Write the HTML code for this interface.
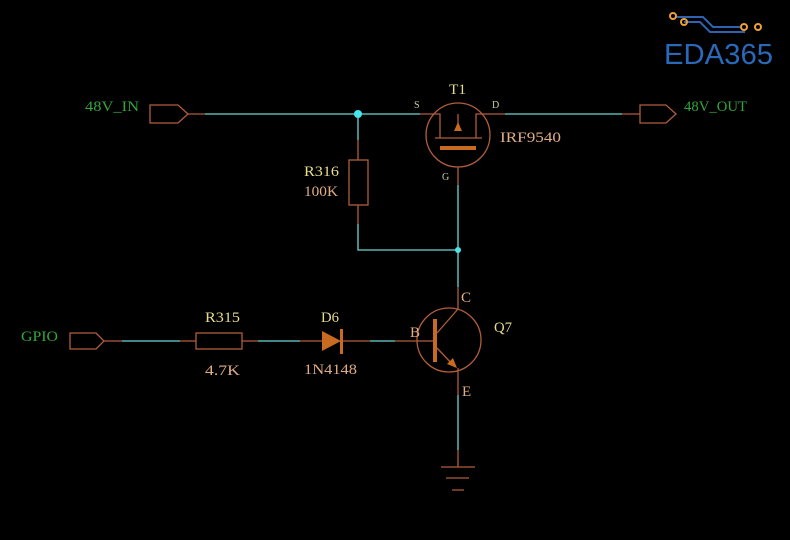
<!DOCTYPE html>
<html><head><meta charset="utf-8"><style>
html,body{margin:0;padding:0;background:#000;width:790px;height:540px;overflow:hidden}
text{font-family:"Liberation Serif",serif;font-size:15px}
.w{stroke:#6ad6d6;stroke-width:1.3;fill:none}
.b{stroke:#b05e3c;stroke-width:1.3;fill:none}
.lab{fill:#e6dc8e}
.val{fill:#e0ad84}
.net{fill:#33a63a}
</style></head><body>
<svg width="790" height="540" viewBox="0 0 790 540" xmlns="http://www.w3.org/2000/svg">
<g>
<path d="M676 17 H703 L713 27 H740" stroke="#2f63b0" stroke-width="2" fill="none"/>
<path d="M684 22 H700 L710 32 H745" stroke="#2f63b0" stroke-width="2" fill="none"/>
<circle cx="673" cy="16" r="3" fill="none" stroke="#f0a030" stroke-width="2"/>
<circle cx="684" cy="22" r="3" fill="none" stroke="#f0a030" stroke-width="2"/>
<circle cx="744" cy="27" r="3" fill="none" stroke="#f0a030" stroke-width="2"/>
<circle cx="758" cy="27" r="3" fill="none" stroke="#f0a030" stroke-width="2"/>
<text x="664" y="64" textLength="109" lengthAdjust="spacingAndGlyphs" style="font-family:'Liberation Sans',sans-serif;font-size:29px" fill="#2a68b8">EDA365</text>
</g>
<text x="85" y="111" class="net" textLength="54" lengthAdjust="spacingAndGlyphs">48V_IN</text>
<path class="b" d="M150 105 H178 L188 114 L178 123 H150 Z"/>
<path class="b" d="M188 114 H205"/>
<path class="w" d="M205 114 H420"/>
<circle cx="358" cy="114" r="4" fill="#40e8f0"/>
<path class="w" d="M358 114 V140"/>
<path class="b" d="M358 140 V160 M358 205 V224"/>
<rect x="349" y="160" width="19" height="45" class="b"/>
<text x="304" y="176" class="lab" textLength="35" lengthAdjust="spacingAndGlyphs">R316</text>
<text x="304" y="196" class="val" textLength="34" lengthAdjust="spacingAndGlyphs">100K</text>
<path class="w" d="M358 224 V250 H458"/>
<circle cx="458" cy="250" r="3" fill="#40e8f0"/>
<text x="449" y="94" class="lab" textLength="17" lengthAdjust="spacingAndGlyphs">T1</text>
<text x="500" y="142" class="val" textLength="61" lengthAdjust="spacingAndGlyphs">IRF9540</text>
<circle cx="458" cy="135" r="32" class="b"/>
<path class="b" d="M420 114 H440 V138 M476 138 V114 H505"/>
<path class="b" d="M435 138 H482"/>
<path class="b" d="M458 114 V130"/>
<polygon points="458,122 454,131 462,131" fill="#c86a20"/>
<rect x="440" y="146" width="36" height="4" fill="#c86a20"/>
<path class="b" d="M458 167 V185"/>
<text x="414" y="108" style="font-size:10px" fill="#c8d0a0">S</text>
<text x="492" y="108" style="font-size:10px" fill="#c8d0a0">D</text>
<text x="442" y="180" style="font-size:10px" fill="#c8d0a0">G</text>
<path class="w" d="M505 114 H622 M458 185 V287"/>
<path class="b" d="M622 114 H640"/>
<path class="b" d="M640 105 H666 L676 114 L666 123 H640 Z"/>
<text x="684" y="111" class="net" textLength="63" lengthAdjust="spacingAndGlyphs">48V_OUT</text>
<text x="21" y="341" class="net" textLength="37" lengthAdjust="spacingAndGlyphs">GPIO</text>
<path class="b" d="M70 333 H96 L104 341 L96 349 H70 Z"/>
<path class="b" d="M104 341 H122"/>
<path class="w" d="M122 341 H180"/>
<path class="b" d="M180 341 H196 M242 341 H258"/>
<rect x="196" y="333" width="46" height="16" class="b"/>
<text x="205" y="322" class="lab" textLength="35" lengthAdjust="spacingAndGlyphs">R315</text>
<text x="205" y="375" class="val" textLength="35" lengthAdjust="spacingAndGlyphs">4.7K</text>
<path class="w" d="M258 341 H300"/>
<path class="b" d="M300 341 H322 M342 341 H370"/>
<polygon points="322,331 322,351 341,341" fill="#c86a20"/>
<rect x="340" y="329" width="3" height="25" fill="#c86a20"/>
<text x="321" y="322" class="lab" textLength="18" lengthAdjust="spacingAndGlyphs">D6</text>
<text x="304" y="374" class="val" textLength="53" lengthAdjust="spacingAndGlyphs">1N4148</text>
<path class="w" d="M370 341 H395"/>
<path class="b" d="M395 341 H434"/>
<circle cx="449" cy="340" r="32" class="b"/>
<rect x="433" y="319" width="4" height="43" fill="#c86a20"/>
<path class="b" d="M437 333 L458 309 M437 348 L455 367"/>
<polygon points="457,368 447,364 453,358" fill="#c86a20"/>
<path class="b" d="M458 287 V309 M458 368 V395"/>
<text x="461" y="302" class="val">C</text>
<text x="462" y="396" class="val">E</text>
<text x="410" y="337" class="val">B</text>
<text x="494" y="332" class="lab" textLength="18" lengthAdjust="spacingAndGlyphs">Q7</text>
<path class="w" d="M458 395 V450"/>
<path class="b" d="M458 450 V467 M441 467 H475 M446 478 H469 M452 490 H464"/>
</svg>
</body></html>
